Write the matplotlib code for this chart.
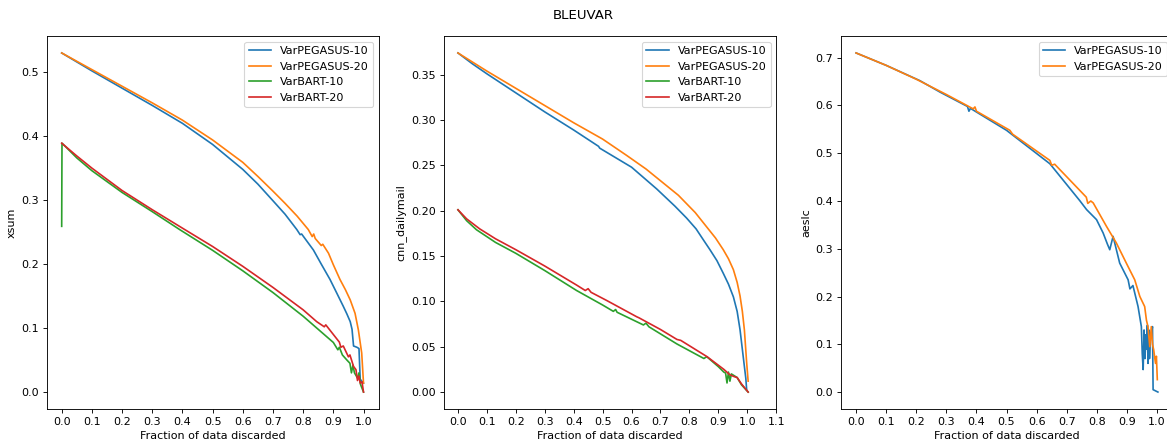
import numpy as np
import matplotlib
matplotlib.use("Agg")
import matplotlib.pyplot as plt

# ---- xsum ----
xsum_p10_x = [0.0, 0.1, 0.2, 0.3, 0.4, 0.5, 0.6, 0.65, 0.7, 0.74, 0.779, 0.79, 0.795, 0.834,
              0.86, 0.889, 0.91, 0.933, 0.945, 0.956, 0.962, 0.967, 0.978, 0.985, 0.989, 1.0]
xsum_p10_y = [0.530, 0.502, 0.475, 0.448, 0.420, 0.387, 0.348, 0.325, 0.299, 0.278, 0.254, 0.246,
              0.247, 0.222, 0.200, 0.176, 0.156, 0.134, 0.122, 0.110, 0.098, 0.072, 0.070, 0.068,
              0.020, 0.014]
xsum_p20_x = [0.0, 0.1, 0.2, 0.3, 0.4, 0.5, 0.6, 0.65, 0.7, 0.74, 0.78, 0.817, 0.83, 0.835, 0.84,
              0.86, 0.865, 0.884, 0.90, 0.922, 0.94, 0.956, 0.972, 0.983, 0.994, 1.0]
xsum_p20_y = [0.530, 0.504, 0.478, 0.452, 0.425, 0.394, 0.359, 0.337, 0.314, 0.295, 0.275, 0.254,
              0.243, 0.247, 0.240, 0.229, 0.231, 0.217, 0.199, 0.176, 0.160, 0.144, 0.123, 0.097,
              0.061, 0.014]
xsum_b10_x = [0.0, 0.001, 0.05, 0.1, 0.2, 0.3, 0.392, 0.5, 0.6, 0.7, 0.8, 0.85, 0.9, 0.915, 0.92,
              0.93, 0.945, 0.955, 0.96, 0.965, 0.97, 0.98, 0.985, 0.99, 1.0]
xsum_b10_y = [0.259, 0.389, 0.366, 0.346, 0.312, 0.282, 0.2536, 0.2215, 0.1895, 0.1555, 0.1185,
              0.098, 0.0775, 0.066, 0.070, 0.058, 0.050, 0.045, 0.030, 0.042, 0.030, 0.022, 0.030,
              0.012, 0.0]
xsum_b20_x = [0.0, 0.05, 0.1, 0.2, 0.3, 0.409, 0.5, 0.6, 0.7, 0.8, 0.845, 0.87, 0.875, 0.9, 0.92,
              0.925, 0.933, 0.95, 0.955, 0.967, 0.975, 0.98, 0.985, 0.989, 0.995, 1.0]
xsum_b20_y = [0.389, 0.369, 0.350, 0.315, 0.285, 0.2536, 0.2275, 0.1965, 0.1635, 0.1285, 0.110,
              0.102, 0.105, 0.090, 0.078, 0.070, 0.072, 0.055, 0.058, 0.040, 0.035, 0.018, 0.025,
              0.014, 0.016, 0.0]

# ---- cnn_dailymail ----
cnn_p10_x = [0.0, 0.05, 0.1, 0.2, 0.3, 0.4, 0.486, 0.49, 0.6, 0.687, 0.75, 0.79, 0.823, 0.85,
             0.871, 0.895, 0.917, 0.935, 0.952, 0.965, 0.975, 0.986, 0.995, 0.998]
cnn_p10_y = [0.374, 0.362, 0.351, 0.330, 0.309, 0.289, 0.271, 0.269, 0.248, 0.224, 0.205, 0.192,
             0.180, 0.167, 0.157, 0.145, 0.131, 0.119, 0.105, 0.089, 0.0687, 0.039, 0.015, 0.002]
cnn_p20_x = [0.0, 0.05, 0.1, 0.2, 0.3, 0.4, 0.5, 0.583, 0.65, 0.762, 0.82, 0.865, 0.89, 0.917,
             0.935, 0.952, 0.965, 0.975, 0.983, 0.990, 0.998, 1.003]
cnn_p20_y = [0.374, 0.364, 0.354, 0.335, 0.316, 0.297, 0.279, 0.261, 0.246, 0.217, 0.198, 0.180,
             0.170, 0.157, 0.147, 0.135, 0.121, 0.106, 0.089, 0.0687, 0.032, 0.012]
cnn_b10_x = [0.0, 0.03, 0.064, 0.13, 0.2, 0.3, 0.41, 0.5, 0.537, 0.545, 0.55, 0.641, 0.65, 0.66,
             0.757, 0.85, 0.86, 0.9, 0.919, 0.925, 0.93, 0.935, 0.94, 0.945, 0.965, 0.98, 1.003]
cnn_b10_y = [0.201, 0.189, 0.179, 0.165, 0.153, 0.134, 0.112, 0.096, 0.089, 0.091, 0.088, 0.074,
             0.076, 0.072, 0.053, 0.037, 0.039, 0.028, 0.022, 0.021, 0.010, 0.022, 0.012, 0.020,
             0.016, 0.008, 0.0]
cnn_b20_x = [0.0, 0.03, 0.075, 0.13, 0.2, 0.3, 0.41, 0.44, 0.45, 0.46, 0.514, 0.618, 0.625, 0.7,
             0.757, 0.77, 0.861, 0.919, 0.94, 0.955, 0.965, 0.98, 1.003]
cnn_b20_y = [0.201, 0.191, 0.180, 0.169, 0.157, 0.139, 0.118, 0.112, 0.114, 0.110, 0.101, 0.083,
             0.082, 0.069, 0.058, 0.057, 0.039, 0.025, 0.019, 0.017, 0.016, 0.009, 0.0]

# ---- aeslc ----
aes_p10_x = [0.0, 0.1, 0.212, 0.279, 0.37, 0.375, 0.38, 0.5, 0.644, 0.743, 0.766, 0.799, 0.821,
             0.835, 0.843, 0.854, 0.876, 0.904, 0.91, 0.92, 0.937, 0.948, 0.951, 0.954, 0.957,
             0.96, 0.963, 0.965, 0.968, 0.97, 0.973, 0.975, 0.978, 0.98, 0.985, 0.987, 1.003]
aes_p10_y = [0.710, 0.684, 0.652, 0.628, 0.598, 0.588, 0.594, 0.548, 0.478, 0.401, 0.382, 0.361,
             0.333, 0.310, 0.298, 0.326, 0.270, 0.235, 0.216, 0.223, 0.179, 0.137, 0.080, 0.047,
             0.130, 0.070, 0.120, 0.090, 0.140, 0.060, 0.130, 0.070, 0.110, 0.115, 0.137, 0.005,
             0.0]
aes_p20_x = [0.0, 0.1, 0.2, 0.3, 0.389, 0.395, 0.4, 0.511, 0.52, 0.644, 0.65, 0.66, 0.765, 0.77,
             0.78, 0.788, 0.832, 0.865, 0.898, 0.926, 0.943, 0.959, 0.965, 0.97, 0.976, 0.981,
             0.985, 0.989, 0.995, 0.998, 1.001]
aes_p20_y = [0.710, 0.684, 0.655, 0.623, 0.593, 0.597, 0.588, 0.548, 0.540, 0.485, 0.475, 0.477,
             0.408, 0.395, 0.400, 0.396, 0.347, 0.312, 0.270, 0.235, 0.200, 0.179, 0.150, 0.137,
             0.095, 0.137, 0.100, 0.0885, 0.060, 0.075, 0.026]

xticks_short = [0.0, 0.1, 0.2, 0.3, 0.4, 0.5, 0.6, 0.7, 0.8, 0.9, 1.0]
xticks_long = [0.0, 0.1, 0.2, 0.3, 0.4, 0.5, 0.6, 0.7, 0.8, 0.9, 1.0, 1.1]

W, H = 1167, 443
DPI = 80
fig = plt.figure(figsize=(W / DPI, H / DPI), dpi=DPI)

bottom = 34 / H
height = 373 / H
ax1 = fig.add_axes([46.6 / W, bottom, 332 / W, height])
ax2 = fig.add_axes([443.5 / W, bottom, 332.7 / W, height])
ax3 = fig.add_axes([841 / W, bottom, 332 / W, height])

ax1.plot(xsum_p10_x, xsum_p10_y, label="VarPEGASUS-10")
ax1.plot(xsum_p20_x, xsum_p20_y, label="VarPEGASUS-20")
ax1.plot(xsum_b10_x, xsum_b10_y, label="VarBART-10")
ax1.plot(xsum_b20_x, xsum_b20_y, label="VarBART-20")
ax1.set_ylabel("xsum")
ax1.set_xticks(xticks_short)

ax2.plot(cnn_p10_x, cnn_p10_y, label="VarPEGASUS-10")
ax2.plot(cnn_p20_x, cnn_p20_y, label="VarPEGASUS-20")
ax2.plot(cnn_b10_x, cnn_b10_y, label="VarBART-10")
ax2.plot(cnn_b20_x, cnn_b20_y, label="VarBART-20")
ax2.set_ylabel("cnn_dailymail")
ax2.set_xticks(xticks_long)
ax2.set_xlim(-0.05, 1.1)

ax3.plot(aes_p10_x, aes_p10_y, label="VarPEGASUS-10")
ax3.plot(aes_p20_x, aes_p20_y, label="VarPEGASUS-20")
ax3.set_ylabel("aeslc")
ax3.set_xticks(xticks_short)

for ax in (ax1, ax2, ax3):
    ax.set_xlabel("Fraction of data discarded")
    ax.legend(loc="upper right")

fig.suptitle("BLEUVAR")
fig.savefig("out.png", dpi=DPI)
